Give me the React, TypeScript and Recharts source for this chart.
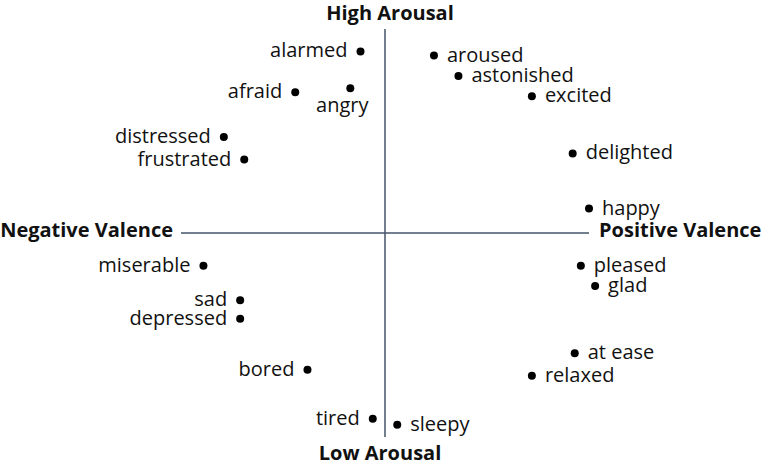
import { ScatterChart, Scatter, XAxis, YAxis, ReferenceLine, ReferenceDot } from 'recharts';

// Russell's circumplex: valence on x, arousal on y, both in [-1, 1]
const emotions = [
  'alarmed', 'afraid', 'angry', 'distressed', 'frustrated',
  'aroused', 'astonished', 'excited', 'delighted', 'happy',
  'miserable', 'sad', 'depressed', 'bored', 'tired',
  'sleepy', 'pleased', 'glad', 'at ease', 'relaxed',
];
const valence = [
  -0.12, -0.44, -0.17, -0.79, -0.69,
  0.24, 0.36, 0.72, 0.92, 1.0,
  -0.89, -0.71, -0.71, -0.38, -0.06,
  0.06, 0.96, 1.03, 0.93, 0.72,
];
const arousal = [
  0.89, 0.69, 0.71, 0.47, 0.36,
  0.87, 0.77, 0.67, 0.39, 0.12,
  -0.16, -0.33, -0.42, -0.67, -0.91,
  -0.94, -0.16, -0.26, -0.59, -0.70,
];
const axisTitles = ['High Arousal', 'Low Arousal', 'Negative Valence', 'Positive Valence'];

// where each word sits next to its dot
const labelSide: Record<string, 'left' | 'right' | 'below'> = {
  alarmed: 'left', afraid: 'left', angry: 'below', distressed: 'left', frustrated: 'left',
  miserable: 'left', sad: 'left', depressed: 'left', bored: 'left', tired: 'left',
};

const points = emotions.map((name, i) => ({ name, x: valence[i], y: arousal[i] }));

const FONT = '"Open Sans", Lato, sans-serif';
const LINE = '#44546a';

function EmotionDot(props: any) {
  const { cx, cy, payload } = props;
  const side = labelSide[payload.name] ?? 'right';
  let tx = cx + 13;
  let ty = cy + 6;
  let anchor: 'start' | 'end' | 'middle' = 'start';
  if (side === 'left') {
    tx = cx - 13;
    anchor = 'end';
  } else if (side === 'below') {
    tx = cx - 8;
    ty = cy + 24;
    anchor = 'middle';
  }
  return (
    <g>
      <circle cx={cx} cy={cy} r={4} fill="#000" />
      <text x={tx} y={ty} textAnchor={anchor} fontFamily={FONT} fontSize={20} fill="#111">
        {payload.name}
      </text>
    </g>
  );
}

function axisTitle(text: string, dx: number, dy: number, anchor: 'start' | 'end' | 'middle') {
  return (p: any) => (
    <text
      x={p.viewBox.x + dx}
      y={p.viewBox.y + dy}
      textAnchor={anchor}
      fontFamily={FONT}
      fontWeight={700}
      fontSize={20}
      fill="#111"
    >
      {text}
    </text>
  );
}

export default function App() {
  return (
    <div style={{ position: 'absolute', left: 0, top: 0 }}>
      <ScatterChart
        width={765}
        height={466}
        margin={{ top: 8.6, right: 155.6, bottom: 8.6, left: 160.6 }}
      >
        <XAxis type="number" dataKey="x" domain={[-1.1, 1.1]} hide />
        <YAxis type="number" dataKey="y" domain={[-1.1, 1.1]} hide />
        <ReferenceLine
          segment={[{ x: 0, y: -1 }, { x: 0, y: 1 }]}
          stroke={LINE}
          strokeWidth={1.5}
        />
        <ReferenceLine
          segment={[{ x: -1, y: 0 }, { x: 1, y: 0 }]}
          stroke={LINE}
          strokeWidth={1.5}
        />
        <ReferenceDot x={0} y={1} r={0} label={axisTitle(axisTitles[0], 5, -9, 'middle')} />
        <ReferenceDot x={0} y={-1} r={0} label={axisTitle(axisTitles[1], -5, 23, 'middle')} />
        <ReferenceDot x={-1} y={0} r={0} label={axisTitle(axisTitles[2], -8, 4, 'end')} />
        <ReferenceDot x={1} y={0} r={0} label={axisTitle(axisTitles[3], 10, 4, 'start')} />
        <Scatter data={points} shape={EmotionDot} isAnimationActive={false} />
      </ScatterChart>
    </div>
  );
}
